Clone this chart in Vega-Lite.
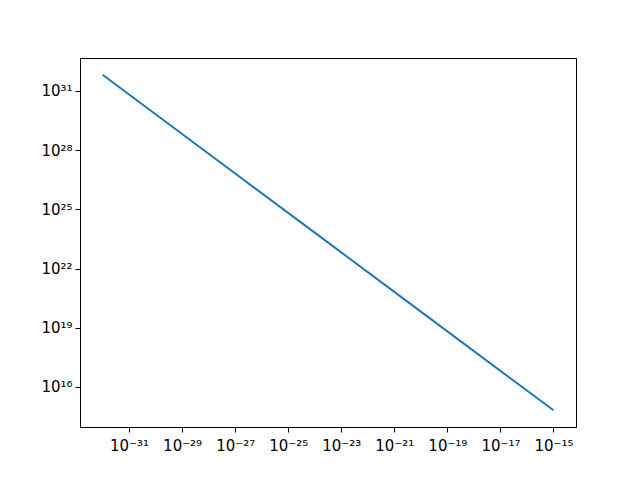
{
  "$schema": "https://vega.github.io/schema/vega-lite/v6.json",
  "width": 496,
  "height": 369,
  "autosize": "none",
  "padding": {"left": 80, "top": 58, "right": 64, "bottom": 53},
  "background": "white",
  "config": {
    "view": {"stroke": "black", "strokeWidth": 1},
    "axis": {
      "domain": false,
      "grid": false,
      "ticks": true,
      "tickSize": 5,
      "tickWidth": 1,
      "tickColor": "black",
      "labelColor": "black",
      "labelFont": "DejaVu Sans",
      "labelFontSize": 15,
      "labelPadding": 3,
      "title": null
    }
  },
  "data": {
    "values": [
      {"x": 1e-32, "y": 6.6e31},
      {"x": 1e-28, "y": 6.6e27},
      {"x": 1e-24, "y": 6.6e23},
      {"x": 1e-20, "y": 6.6e19},
      {"x": 1e-16, "y": 6.6e15},
      {"x": 1e-15, "y": 6.6e14}
    ]
  },
  "mark": {"type": "line", "color": "#1f77b4", "strokeWidth": 2, "clip": true},
  "encoding": {
    "x": {
      "field": "x",
      "type": "quantitative",
      "scale": {"type": "log", "domain": [1.4125e-33, 7.079e-15], "nice": false, "zero": false},
      "axis": {
        "values": [1e-31, 1e-29, 1e-27, 1e-25, 1e-23, 1e-21, 1e-19, 1e-17, 1e-15],
        "labelPadding": 6,
        "labelExpr": "'10' + (round(log(datum.value)/LN10) < 0 ? '⁻' : '') + substring('⁰¹²³⁴⁵⁶⁷⁸⁹', floor(abs(round(log(datum.value)/LN10))/10), floor(abs(round(log(datum.value)/LN10))/10)+1) + substring('⁰¹²³⁴⁵⁶⁷⁸⁹', abs(round(log(datum.value)/LN10))%10, abs(round(log(datum.value)/LN10))%10+1)"
      }
    },
    "y": {
      "field": "y",
      "type": "quantitative",
      "scale": {"type": "log", "domain": [9.33e13, 4.68e32], "nice": false, "zero": false},
      "axis": {
        "values": [1e16, 1e19, 1e22, 1e25, 1e28, 1e31],
        "labelExpr": "'10' + (round(log(datum.value)/LN10) < 0 ? '⁻' : '') + substring('⁰¹²³⁴⁵⁶⁷⁸⁹', floor(abs(round(log(datum.value)/LN10))/10), floor(abs(round(log(datum.value)/LN10))/10)+1) + substring('⁰¹²³⁴⁵⁶⁷⁸⁹', abs(round(log(datum.value)/LN10))%10, abs(round(log(datum.value)/LN10))%10+1)"
      }
    }
  }
}
